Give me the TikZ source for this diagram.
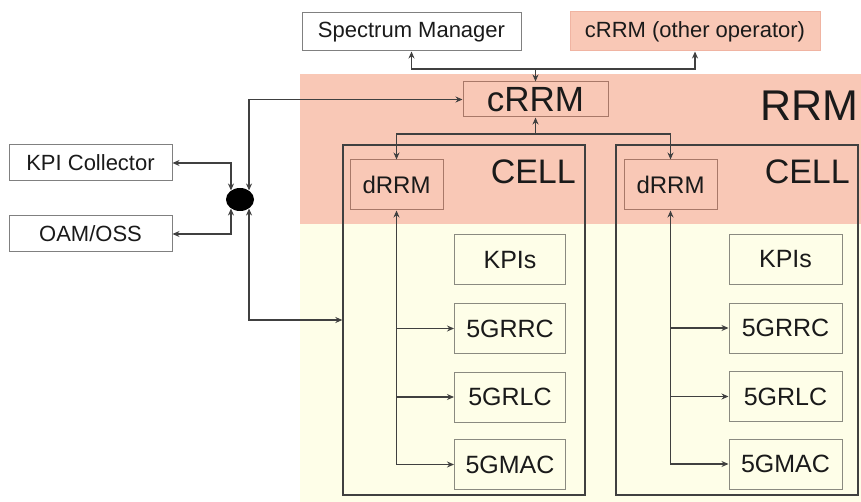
\documentclass[tikz,border=0pt]{standalone}
\usepackage{fontspec}
\setmainfont{Liberation Sans}
\usetikzlibrary{arrows.meta,shapes.geometric,calc}
\definecolor{pinkbg}{HTML}{F9C8B6}
\definecolor{yellowbg}{HTML}{FEFEE8}
\definecolor{ln}{HTML}{404040}
\definecolor{gbord}{HTML}{808080}
\definecolor{pbord}{HTML}{A87868}
\definecolor{obord}{HTML}{F0B4A2}
\definecolor{ybord}{HTML}{8A8A80}
\definecolor{txt}{HTML}{1A1A1A}
\begin{document}
\begin{tikzpicture}[x=1pt,y=-1pt,
  >={Stealth[length=7pt,width=6pt]},
  base/.style={inner sep=0pt, text=txt},
  wbox/.style={base, draw=gbord, fill=white, line width=1pt, minimum width=163pt, minimum height=36pt, font=\fontsize{22}{26}\selectfont},
  obox/.style={base, draw=obord, fill=pinkbg, line width=1pt, minimum width=250pt, minimum height=39pt, font=\fontsize{22}{26}\selectfont},
  cbox/.style={base, draw=pbord, line width=1pt, minimum width=145pt, minimum height=35pt, font=\fontsize{35}{40}\selectfont},
  dbox/.style={base, draw=pbord, line width=1pt, minimum width=93pt, minimum height=50pt, font=\fontsize{24}{28}\selectfont},
  ibox/.style={base, draw=ybord, fill=yellowbg, line width=1pt, minimum width=111pt, minimum height=50pt, font=\fontsize{25}{30}\selectfont},
  cellbox/.style={draw=ln, line width=1.3pt, minimum width=242pt, minimum height=350pt, inner sep=0pt},
  big/.style={base, font=\fontsize{#1}{#1}\selectfont},
  conn/.style={draw=ln, line width=1.3pt}
]
\useasboundingbox (0,0) rectangle (861,502);
% backgrounds
\fill[pinkbg] (300,74) rectangle (861,224);
\fill[yellowbg] (300,224) rectangle (861,502);
% top boxes
\node[wbox, minimum width=219pt, minimum height=38pt] (sm) at (411.5,32) {Spectrum Manager};
\node[obox] (oth) at (695,31.5) {cRRM (other operator)};
\node[cbox] (crrm) at (535.5,99.5) {cRRM};
\node[big=43, anchor=east] (rrm) at (859,106) {RRM};
% cells
\node[cellbox] (cellL) at (464,320) {};
\node[cellbox] (cellR) at (737,320) {};
\node[big=34, anchor=east] (celltL) at (576,171.5) {CELL};
\node[big=34, anchor=east] (celltR) at (850,171.5) {CELL};
\node[dbox] (drrmL) at (396.5,185) {dRRM};
\node[dbox] (drrmR) at (670.5,185) {dRRM};
\node[ibox] (kpiL) at (510,260) {KPIs};
\node[ibox] (rrcL) at (510,328.5) {5GRRC};
\node[ibox] (rlcL) at (510,397) {5GRLC};
\node[ibox] (macL) at (510,464.5) {5GMAC};
\node[ibox, minimum width=113pt] (kpiR) at (785.5,259.5) {KPIs};
\node[ibox, minimum width=113pt] (rrcR) at (785.5,328) {5GRRC};
\node[ibox, minimum width=113pt] (rlcR) at (785.5,396.5) {5GRLC};
\node[ibox, minimum width=113pt] (macR) at (785.5,464) {5GMAC};
% left side
\node[wbox] (kpic) at (90.5,163) {KPI Collector};
\node[wbox] (oam) at (90.5,234) {OAM/OSS};
\node[ellipse, fill=black, minimum width=28pt, minimum height=23pt, inner sep=0pt] (ell) at (240,199.5) {};
% connectors
\coordinate (j1) at (535.5,69);
\coordinate (j2) at (535.5,134);
\draw[conn,->] (j1) -- (crrm.north);
\draw[conn,->] (j1) -| (sm.south);
\draw[conn,->] (j1) -| (oth.south);
\draw[conn,->] (j2) -- (crrm.south);
\draw[conn,->] (j2) -| (drrmL.north);
\draw[conn,->] (j2) -| (drrmR.north);
\draw[conn,<->] (drrmL.south) |- (macL.west);
\draw[conn,->] (drrmL.south |- rrcL.west) -- (rrcL.west);
\draw[conn,->] (drrmL.south |- rlcL.west) -- (rlcL.west);
\draw[conn,<->] (drrmR.south) |- (macR.west);
\draw[conn,->] (drrmR.south |- rrcR.west) -- (rrcR.west);
\draw[conn,->] (drrmR.south |- rlcR.west) -- (rlcR.west);
\draw[conn,<->] (kpic.east) -| (ell.135);
\draw[conn,<->] (oam.east) -| (ell.-135);
\draw[conn,<->] (ell.45) |- (crrm.west);
\draw[conn,<->] (ell.-45) |- (cellL.west);
\end{tikzpicture}
\end{document}
